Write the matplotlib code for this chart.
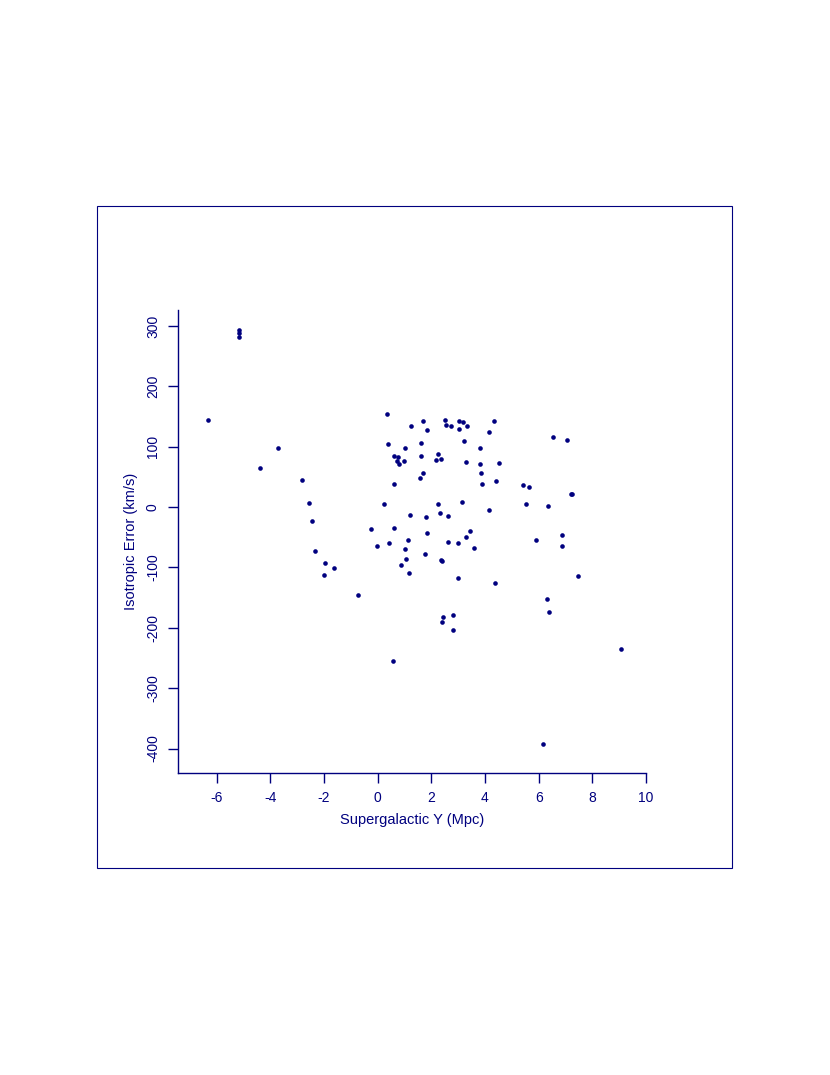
import numpy as np
import matplotlib
matplotlib.use("Agg")
import matplotlib.pyplot as plt
from matplotlib.patches import Rectangle

plt.rcParams['font.family'] = ['Liberation Sans', 'DejaVu Sans']
plt.rcParams['axes.unicode_minus'] = False

NAVY = '#00007f'

# supergalactic Y (Mpc) and isotropic error (km/s)
sg_y = [-5.16, -5.16, -5.16, -6.31, -3.70, -4.39,
        -2.82, -2.57, -2.44, -0.25, -0.04, -2.34, -1.95, -1.63, -2.01, -0.75,
        0.35, 1.69, 2.50, 3.02, 3.17, 4.33, 1.23, 2.55, 2.74, 3.34, 1.84, 3.02,
        4.16, 0.38, 1.61, 3.21, 1.02, 3.80, 2.25, 0.62, 0.77, 1.61, 2.36, 2.17,
        0.72, 0.98, 0.81, 3.28, 3.80, 4.51, 1.69, 1.58, 3.84, 0.60, 3.88, 4.40,
        5.43, 5.64, 0.23, 2.25, 3.13, 5.53, 6.36, 4.15, 1.19, 1.79, 2.32, 2.61,
        0.62, 1.83, 3.45, 0.42, 1.13, 2.61, 2.99, 3.28, 3.59, 5.89, 1.02, 1.76,
        2.35, 2.40, 1.05, 0.88, 1.16, 2.99, 4.37, 6.31, 6.37, 2.82, 2.43, 2.40,
        2.82, 6.52, 7.06, 7.20, 7.26, 6.87, 6.87, 7.48, 0.56, 9.06, 6.16]
iso_err = [292.7, 288.0, 282.0, 144.7, 97.8, 64.6,
           45.7, 6.6, -23.2, -36.0, -64.0, -73.0, -92.3, -101.7, -112.7, -145.4,
           154.2, 143.0, 144.7, 143.0, 141.4, 143.0, 133.6, 135.3, 133.6, 133.6,
           127.6, 128.6, 124.3, 104.4, 105.4, 108.7, 97.8, 97.8, 87.2, 83.9, 82.2,
           85.0, 78.9, 77.2, 76.2, 75.6, 70.6, 73.9, 71.3, 72.9, 55.7, 48.6, 55.7,
           38.1, 38.1, 43.1, 36.5, 33.1, 5.0, 5.0, 8.3, 5.0, 1.7, -4.5, -12.3,
           -16.6, -10.6, -14.9, -34.3, -42.1, -38.8, -59.2, -54.7, -57.5, -59.2,
           -49.7, -67.0, -54.7, -68.6, -77.9, -87.4, -89.0, -85.7, -95.1, -108.9,
           -117.2, -125.0, -152.0, -173.5, -178.5, -181.8, -189.6, -203.4, 116.5,
           110.4, 22.5, 22.5, -47.0, -64.1, -114.4, -255.3, -234.9, -391.8]

x_ticks = [-6, -4, -2, 0, 2, 4, 6, 8, 10]
y_ticks = [300, 200, 100, 0, -100, -200, -300, -400]

fig = plt.figure(figsize=(8.3, 10.75), dpi=100)
# outer frame
fig.patches.append(Rectangle((97/830, 1-868/1075), 635/830, 662/1075,
                             transform=fig.transFigure, fill=False,
                             edgecolor=NAVY, linewidth=0.8))

ax = fig.add_axes([178/830, 1-772.7/1075, 468/830, 462.7/1075])
ax.scatter(sg_y, iso_err, s=11, color=NAVY, linewidths=0, zorder=3)

ax.set_xlim(-7.44, 10)
ax.set_ylim(-440, 326.5)
ax.set_xticks(x_ticks)
ax.set_yticks(y_ticks)
ax.set_xticklabels([str(v) for v in x_ticks])
ax.set_yticklabels([str(v) for v in y_ticks], rotation=90, va='center')

for s in ['top', 'right']:
    ax.spines[s].set_visible(False)
for s in ['left', 'bottom']:
    ax.spines[s].set_color(NAVY)
    ax.spines[s].set_linewidth(1.0)
ax.tick_params(colors=NAVY, labelcolor=NAVY, length=7, width=1.0, labelsize=10)
ax.tick_params(axis='x', pad=6)
ax.tick_params(axis='y', pad=6)

ax.set_xlabel('Supergalactic Y (Mpc)', color=NAVY, fontsize=10.5, labelpad=6)
ax.set_ylabel('Isotropic Error (km/s)', color=NAVY, fontsize=10.5, labelpad=6)

fig.savefig('out.png', dpi=100)
